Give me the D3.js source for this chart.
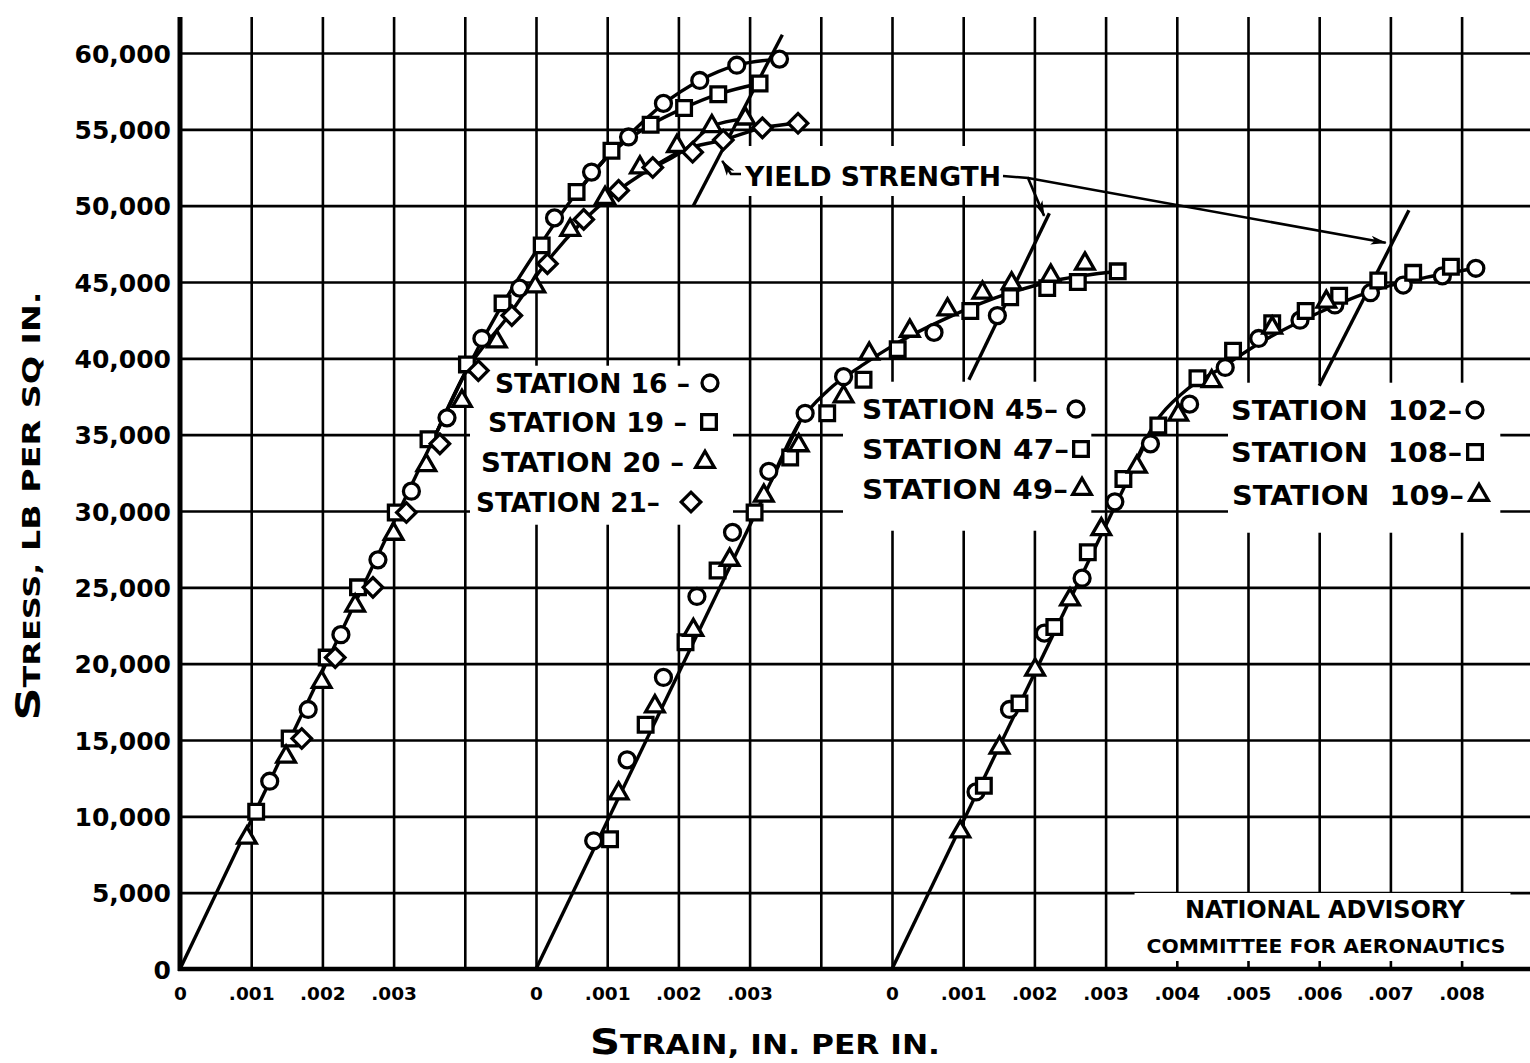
<!DOCTYPE html>
<html>
<head>
<meta charset="utf-8">
<script src="https://cdnjs.cloudflare.com/ajax/libs/d3/7.8.5/d3.min.js"></script>
<style>
  body { margin: 0; background: #fff; }
  svg { display: block; }
  text { font-family: "DejaVu Sans", sans-serif; font-weight: bold; fill: #000; }
</style>
</head>
<body>
<div id="chart"></div>
<script>

// ################## data ##################
// strain is in in. per in., stress in lb per sq in.
// each group of stations has its own strain origin
var groupOffsets = [0, 0.005, 0.010];

var yTickValues = [0, 5000, 10000, 15000, 20000, 25000, 30000, 35000, 40000, 45000, 50000, 55000, 60000];
var yTickLabels = ["0", "5,000", "10,000", "15,000", "20,000", "25,000", "30,000", "35,000", "40,000", "45,000", "50,000", "55,000", "60,000"];

var xTicksG1 = [0, 0.001, 0.002, 0.003];
var xTicksG2 = [0, 0.001, 0.002, 0.003];
var xTicksG3 = [0, 0.001, 0.002, 0.003, 0.004, 0.005, 0.006, 0.007, 0.008];
var xTickLabelsG1 = ["0", ".001", ".002", ".003"];
var xTickLabelsG2 = ["0", ".001", ".002", ".003"];
var xTickLabelsG3 = ["0", ".001", ".002", ".003", ".004", ".005", ".006", ".007", ".008"];

// group 1
var station16 = [[0.00126, 12300], [0.00180, 17000], [0.00226, 21900], [0.00278, 26800], [0.00325, 31300],
  [0.00375, 36100], [0.00424, 41300], [0.00477, 44600], [0.00526, 49200], [0.00578, 52200], [0.00630, 54500],
  [0.00679, 56700], [0.00730, 58200], [0.00782, 59200], [0.00842, 59600]];
var station19 = [[0.00107, 10300], [0.00154, 15100], [0.00206, 20400], [0.00250, 25000], [0.00303, 29900],
  [0.00349, 34700], [0.00403, 39600], [0.00453, 43600], [0.00508, 47400], [0.00557, 50900], [0.00606, 53600],
  [0.00661, 55300], [0.00708, 56400], [0.00756, 57300], [0.00814, 58000]];
var station20 = [[0.00094, 8600], [0.00149, 13900], [0.00199, 18800], [0.00246, 23800], [0.00300, 28500],
  [0.00346, 33000], [0.00396, 37200], [0.00445, 41100], [0.00499, 44700], [0.00548, 48400], [0.00597, 50500],
  [0.00646, 52500], [0.00698, 53900], [0.00747, 55200], [0.00794, 55700]];
var station21 = [[0.00171, 15100], [0.00218, 20400], [0.00271, 25000], [0.00318, 29900], [0.00365, 34400],
  [0.00419, 39200], [0.00466, 42800], [0.00516, 46200], [0.00567, 49100], [0.00616, 51000], [0.00664, 52500],
  [0.00720, 53500], [0.00763, 54300], [0.00818, 55100], [0.00868, 55400]];

// group 2
var station45 = [[0.00081, 8400], [0.00128, 13700], [0.00179, 19100], [0.00226, 24400], [0.00276, 28600],
  [0.00327, 32600], [0.00378, 36400], [0.00432, 38800], [0.00559, 41700], [0.00648, 42800]];
var station47 = [[0.00104, 8500], [0.00154, 16000], [0.00210, 21400], [0.00255, 26100], [0.00307, 29900],
  [0.00357, 33500], [0.00409, 36400], [0.00460, 38600], [0.00508, 40600], [0.00610, 43100], [0.00666, 44000],
  [0.00718, 44600], [0.00761, 45000], [0.00817, 45700]];
var station49 = [[0.00116, 11500], [0.00167, 17200], [0.00221, 22200], [0.00272, 26800], [0.00320, 31000],
  [0.00369, 34300], [0.00432, 37500], [0.00468, 40300], [0.00525, 41800], [0.00578, 43200], [0.00627, 44300],
  [0.00668, 44900], [0.00723, 45400], [0.00771, 46200]];

// group 3
var station102 = [[0.00118, 11600], [0.00165, 17000], [0.00214, 22000], [0.00267, 25600], [0.00313, 30600],
  [0.00363, 34400], [0.00418, 37000], [0.00468, 39400], [0.00515, 41300], [0.00573, 42500], [0.00622, 43500],
  [0.00672, 44300], [0.00718, 44800], [0.00773, 45400], [0.00820, 45900]];
var station108 = [[0.00129, 12000], [0.00179, 17400], [0.00228, 22400], [0.00275, 27300], [0.00325, 32100],
  [0.00374, 35600], [0.00429, 38700], [0.00479, 40500], [0.00534, 42300], [0.00581, 43100], [0.00628, 44100],
  [0.00683, 45100], [0.00732, 45600], [0.00785, 46000]];
var station109 = [[0.00096, 9000], [0.00151, 14500], [0.00201, 19600], [0.00250, 24200], [0.00294, 28800],
  [0.00344, 32900], [0.00402, 36300], [0.00449, 38500], [0.00534, 42000], [0.00610, 43700]];

// faired curves (straight elastic part, then the knee)
var fitG1Base = [[0, 0], [0.00400, 39000]];
var fitG1Upper = [[0.00360, 35100], [0.00400, 39000], [0.00450, 43300], [0.00500, 47000], [0.00550, 50400], [0.00600, 53200]];
var fitG1Circle = [[0.00550, 50400], [0.00600, 53200], [0.00630, 54600], [0.00680, 56700], [0.00730, 58200], [0.00782, 59200], [0.00842, 59600]];
var fitG1Square = [[0.00550, 50400], [0.00600, 53200], [0.00661, 55300], [0.00708, 56400], [0.00756, 57300], [0.00814, 58000]];
var fitG1Lower = [[0.00360, 35100], [0.00400, 39000], [0.00460, 42700], [0.00510, 46000], [0.00560, 48700], [0.00610, 50800], [0.00660, 52400], [0.00710, 53700]];
var fitG1Triangle = [[0.00660, 52400], [0.00710, 53700], [0.00747, 55200], [0.00794, 55700]];
var fitG1Diamond = [[0.00660, 52400], [0.00710, 53700], [0.00763, 54300], [0.00818, 55100], [0.00868, 55400]];
var fitG2Base = [[0, 0], [0.00370, 35800]];
var fitG2 = [[0.00330, 31950], [0.00370, 35800], [0.00410, 37900], [0.00460, 39600], [0.00500, 40800], [0.00580, 42700], [0.00660, 44200], [0.00730, 45100], [0.00817, 45700]];
var fitG3Base = [[0, 0], [0.00370, 35800]];
var fitG3 = [[0.00330, 31950], [0.00370, 35800], [0.00410, 37800], [0.00460, 39300], [0.00520, 41100], [0.00600, 43000], [0.00680, 44500], [0.00750, 45300], [0.00820, 45900]];

// yield strength offset lines
var yieldG1 = [[0.00721, 50000], [0.00846, 61200]];
var yieldG2 = [[0.00608, 38600], [0.00721, 49500]];
var yieldG3 = [[0.00600, 38200], [0.00726, 49700]];

var legendG1Labels = ["STATION 16 \u2013", "STATION 19 \u2013", "STATION 20 \u2013", "STATION 21\u2013"];
var legendG1Shapes = ["circle", "square", "triangle", "diamond"];
var legendG2Labels = ["STATION 45\u2013", "STATION 47\u2013", "STATION 49\u2013"];
var legendG2Shapes = ["circle", "square", "triangle"];
var legendG3Labels = ["STATION\u00a0\u00a0102\u2013", "STATION\u00a0\u00a0108\u2013", "STATION\u00a0\u00a0109\u2013"];
var legendG3Shapes = ["circle", "square", "triangle"];


// ################## layout ##################
var attrs = {
  svgWidth: 1530,
  svgHeight: 1063,
  plotLeft: 180,
  plotRight: 1530,
  plotBottom: 969,
  plotTop: 53,
  gridTop: 17,
  unitWidth: 71.2,   // px per 0.001 strain
  container: '#chart'
};

var stations = [
  { group: 0, shape: 'circle', data: station16 },
  { group: 0, shape: 'square', data: station19 },
  { group: 0, shape: 'triangle', data: station20 },
  { group: 0, shape: 'diamond', data: station21 },
  { group: 1, shape: 'circle', data: station45 },
  { group: 1, shape: 'square', data: station47 },
  { group: 1, shape: 'triangle', data: station49 },
  { group: 2, shape: 'circle', data: station102 },
  { group: 2, shape: 'square', data: station108 },
  { group: 2, shape: 'triangle', data: station109 }
];

var fits = [
  { group: 0, data: fitG1Base }, { group: 0, data: fitG1Upper }, { group: 0, data: fitG1Circle },
  { group: 0, data: fitG1Square }, { group: 0, data: fitG1Lower }, { group: 0, data: fitG1Triangle },
  { group: 0, data: fitG1Diamond }, { group: 1, data: fitG2Base }, { group: 1, data: fitG2 },
  { group: 2, data: fitG3Base }, { group: 2, data: fitG3 }
];
var yields = [{ group: 0, data: yieldG1 }, { group: 1, data: yieldG2 }, { group: 2, data: yieldG3 }];

var groupTicks = [
  { group: 0, ticks: xTicksG1, labels: xTickLabelsG1 },
  { group: 1, ticks: xTicksG2, labels: xTickLabelsG2 },
  { group: 2, ticks: xTicksG3, labels: xTickLabelsG3 }
];

// ###################  scales ##################
var scales = {};
scales.x = d3.scaleLinear()
  .domain([0, 0.019])
  .range([attrs.plotLeft, attrs.plotLeft + 19 * attrs.unitWidth]);
scales.y = d3.scaleLinear()
  .domain([0, 60000])
  .range([attrs.plotBottom, attrs.plotTop]);

function px(group, d) { return scales.x(groupOffsets[group] + d[0]); }
function py(d) { return scales.y(d[1]); }

var svg = d3.select(attrs.container).append('svg')
  .attr('width', attrs.svgWidth)
  .attr('height', attrs.svgHeight);

svg.append('rect').attr('width', attrs.svgWidth).attr('height', attrs.svgHeight).attr('fill', '#fff');

var defs = svg.append('defs');
defs.append('marker')
  .attr('id', 'arrow')
  .attr('markerUnits', 'userSpaceOnUse')
  .attr('markerWidth', 16).attr('markerHeight', 10)
  .attr('refX', 15).attr('refY', 5)
  .attr('orient', 'auto')
  .append('path')
  .attr('d', 'M0,0.5 L16,5 L0,9.5 L4,5 Z')
  .attr('fill', '#000');

var gridLayer = svg.append('g');
var textLayer = svg.append('g');
var lineLayer = svg.append('g');
var markLayer = svg.append('g');

// #################### grid ###################
var xGridValues = [];
for (var i = 0; i <= 19; i++) xGridValues.push(i / 1000);

var xGrid = d3.axisBottom(scales.x)
  .tickValues(xGridValues)
  .tickSize(-(attrs.plotBottom - attrs.gridTop))
  .tickFormat('');
gridLayer.append('g')
  .attr('transform', 'translate(0,' + attrs.plotBottom + ')')
  .call(xGrid)
  .call(function (g) { g.select('.domain').remove(); });

var yGrid = d3.axisLeft(scales.y)
  .tickValues(yTickValues.slice(1))
  .tickSize(-(attrs.plotRight - attrs.plotLeft))
  .tickFormat('');
gridLayer.append('g')
  .attr('transform', 'translate(' + attrs.plotLeft + ',0)')
  .call(yGrid)
  .call(function (g) { g.select('.domain').remove(); });

gridLayer.selectAll('.tick line').attr('stroke', '#000').attr('stroke-width', 2.6);

// thick axis lines
gridLayer.append('line')
  .attr('x1', attrs.plotLeft).attr('x2', attrs.plotLeft)
  .attr('y1', attrs.gridTop).attr('y2', attrs.plotBottom + 2)
  .attr('stroke', '#000').attr('stroke-width', 5);
gridLayer.append('line')
  .attr('x1', attrs.plotLeft - 2).attr('x2', attrs.plotRight)
  .attr('y1', attrs.plotBottom).attr('y2', attrs.plotBottom)
  .attr('stroke', '#000').attr('stroke-width', 4.5);

// #################### axes labels ###################
var yAxis = d3.axisLeft(scales.y)
  .tickValues(yTickValues)
  .tickFormat(function (d, i) { return yTickLabels[i]; })
  .tickSize(0)
  .tickPadding(9);
textLayer.append('g')
  .attr('transform', 'translate(' + attrs.plotLeft + ',0)')
  .call(yAxis)
  .call(function (g) { g.select('.domain').remove(); })
  .selectAll('text')
  .attr('font-family', null).attr('font-size', null)
  .style('font-size', '25px')
  .attr('dy', '0.36em');

var xTickValues = [], xTickText = [];
groupTicks.forEach(function (gt) {
  gt.ticks.forEach(function (t, i) {
    xTickValues.push(groupOffsets[gt.group] + t);
    xTickText.push(gt.labels[i]);
  });
});
var xAxis = d3.axisBottom(scales.x)
  .tickValues(xTickValues)
  .tickFormat(function (d, i) { return xTickText[i]; })
  .tickSize(0)
  .tickPadding(18);
textLayer.append('g')
  .attr('transform', 'translate(0,' + attrs.plotBottom + ')')
  .call(xAxis)
  .call(function (g) { g.select('.domain').remove(); })
  .selectAll('text')
  .attr('font-family', null).attr('font-size', null)
  .style('font-size', '18.5px');

// axis titles
var yTitle = textLayer.append('text')
  .attr('transform', 'translate(40,506) rotate(-90)')
  .attr('text-anchor', 'middle')
  .attr('textLength', 429)
  .attr('lengthAdjust', 'spacingAndGlyphs');
yTitle.append('tspan').style('font-size', '33px').text('S');
yTitle.append('tspan').style('font-size', '23px').text('TRESS,');
yTitle.append('tspan').style('font-size', '24px').text(' LB PER SQ IN.');

var xTitle = textLayer.append('text')
  .attr('x', 765).attr('y', 1054)
  .attr('text-anchor', 'middle')
  .attr('textLength', 350)
  .attr('lengthAdjust', 'spacingAndGlyphs');
xTitle.append('tspan').style('font-size', '36px').text('S');
xTitle.append('tspan').style('font-size', '27px').text('TRAIN, IN. PER IN.');

// #################### marker symbols ###################
var symbolPaths = {
  circle: d3.symbol().type(d3.symbolCircle).size(200)(),
  square: d3.symbol().type(d3.symbolSquare).size(215)(),
  triangle: d3.symbol().type(d3.symbolTriangle).size(150)(),
  diamond: d3.symbol().type(d3.symbolSquare).size(190)()
};

function drawSymbol(container, shape, x, y) {
  return container.append('path')
    .attr('d', symbolPaths[shape])
    .attr('transform', 'translate(' + x + ',' + y + ')' + (shape === 'diamond' ? ' rotate(45)' : ''))
    .attr('fill', '#fff')
    .attr('stroke', '#000')
    .attr('stroke-width', 3.3);
}

// white box behind a text block, breaking the grid like the original
function blankBehind(group, pad) {
  var b = group.node().getBBox();
  group.insert('rect', ':first-child')
    .attr('x', b.x - pad[3]).attr('y', b.y - pad[0])
    .attr('width', b.width + pad[1] + pad[3])
    .attr('height', b.height + pad[0] + pad[2])
    .attr('fill', '#fff');
}

// #################### legends ###################
var legendLayouts = [
  { labels: legendG1Labels, shapes: legendG1Shapes, fontSize: 27,
    rows: [[495, 383, 195, 710], [488, 422, 199, 709], [481, 462, 203, 705], [476, 502, 184, 691]],
    pad: [2, 15, 7, 6] },
  { labels: legendG2Labels, shapes: legendG2Shapes, fontSize: 27,
    rows: [[862, 409, 196, 1076], [862, 449, 207, 1081], [862, 489, 206, 1082]],
    pad: [12, 0, 26, 19] },
  { labels: legendG3Labels, shapes: legendG3Shapes, fontSize: 27,
    rows: [[1231, 410, 231, 1475], [1231, 452, 231, 1475], [1232, 495, 232, 1479]],
    pad: [12, 12, 22, 3] }
];

legendLayouts.forEach(function (lg) {
  var g = textLayer.append('g');
  lg.rows.forEach(function (r, i) {
    g.append('text')
      .attr('x', r[0]).attr('y', r[1] + 0.36 * lg.fontSize)
      .attr('textLength', r[2])
      .attr('lengthAdjust', 'spacingAndGlyphs')
      .style('font-size', lg.fontSize + 'px')
      .text(lg.labels[i]);
    drawSymbol(g, lg.shapes[i], r[3], r[1]);
  });
  blankBehind(g, lg.pad);
});

// NACA note
var naca = textLayer.append('g');
naca.append('text')
  .attr('x', 1185).attr('y', 918)
  .attr('textLength', 280).attr('lengthAdjust', 'spacing')
  .style('font-size', '24px')
  .text('NATIONAL ADVISORY');
naca.append('text')
  .attr('x', 1326).attr('y', 953)
  .attr('text-anchor', 'middle')
  .style('font-size', '20.3px')
  .text('COMMITTEE FOR AERONAUTICS');
blankBehind(naca, [3, 5, 3, 12]);

// yield strength label
var yieldLabel = textLayer.append('g');
yieldLabel.append('text')
  .attr('x', 745).attr('y', 186)
  .attr('textLength', 256).attr('lengthAdjust', 'spacingAndGlyphs')
  .style('font-size', '27px')
  .text('YIELD STRENGTH');
blankBehind(yieldLabel, [15, 5, 4, 6]);

// ################## layout (lines) ###################
var lineGen = function (group) {
  return d3.line()
    .x(function (d) { return px(group, d); })
    .y(py)
    .curve(d3.curveMonotoneX);
};

fits.concat(yields).forEach(function (f) {
  lineLayer.append('path')
    .datum(f.data)
    .attr('d', lineGen(f.group))
    .attr('fill', 'none')
    .attr('stroke', '#000')
    .attr('stroke-width', 3.4)
    .attr('stroke-linejoin', 'round');
});

// leader arrows pointing at the yield lines
function yieldPoint(y, stress) {
  var a = y.data[0], b = y.data[1];
  var t = (stress - a[1]) / (b[1] - a[1]);
  var d = [a[0] + t * (b[0] - a[0]), stress];
  return [px(y.group, d), py(d)];
}
var tip1 = yieldPoint(yields[0], 53000);
var tip2 = yieldPoint(yields[1], 49200);
var tip3 = yieldPoint(yields[2], 47500);
var leaders = [
  [[741, 174], [731, 174], [tip1[0] + 5, tip1[1] + 1]],
  [[1003, 176], [1028, 178], [tip2[0] - 3, tip2[1] - 2]],
  [[1028, 178], [tip3[0] - 6, tip3[1] - 1]]
];
leaders.forEach(function (pts) {
  lineLayer.append('path')
    .attr('d', d3.line()(pts))
    .attr('fill', 'none')
    .attr('stroke', '#000')
    .attr('stroke-width', 2.6)
    .attr('marker-end', 'url(#arrow)');
});

// ################## points ###################
stations.forEach(function (s) {
  s.data.forEach(function (d) {
    drawSymbol(markLayer, s.shape, px(s.group, d), py(d));
  });
});

</script>
</body>
</html>
